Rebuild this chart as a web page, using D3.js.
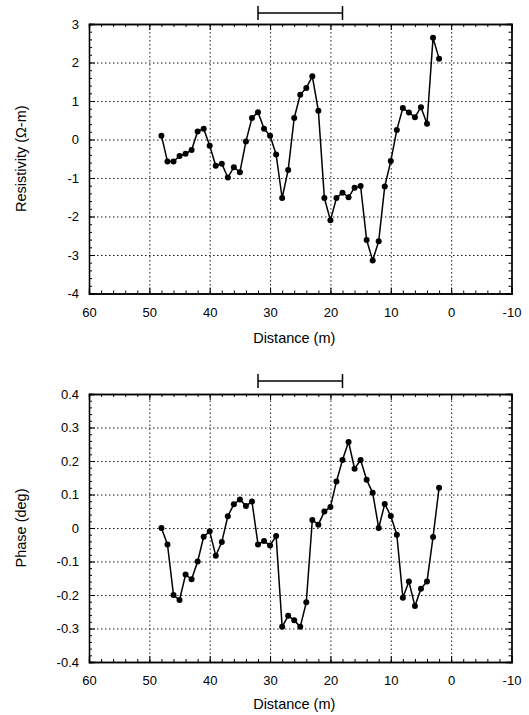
<!DOCTYPE html>
<html>
<head>
<meta charset="utf-8">
<script src="https://cdn.jsdelivr.net/npm/d3@7"></script>
<style>
  body { margin: 0; background: #fff; }
  svg { display: block; }
  text { font-family: "Liberation Sans", Arial, sans-serif; fill: #000; }
</style>
</head>
<body>
<svg id="chart" width="529" height="715"></svg>
<script>
// Data
var distance = [48,47,46,45,44,43,42,41,40,39,38,37,36,35,34,33,32,31,30,29,28,27,26,25,24,23,22,21,20,19,18,17,16,15,14,13,12,11,10,9,8,7,6,5,4,3,2];
var resistivity = [0.10,-0.57,-0.57,-0.43,-0.37,-0.27,0.21,0.28,-0.16,-0.68,-0.63,-0.99,-0.72,-0.85,-0.05,0.56,0.71,0.28,0.10,-0.39,-1.52,-0.79,0.56,1.16,1.34,1.64,0.75,-1.52,-2.10,-1.52,-1.38,-1.50,-1.25,-1.21,-2.61,-3.14,-2.64,-1.22,-0.56,0.25,0.82,0.70,0.58,0.84,0.41,2.64,2.10];
var phase = [0.00,-0.049,-0.20,-0.215,-0.139,-0.153,-0.10,-0.026,-0.01,-0.083,-0.042,0.035,0.071,0.085,0.066,0.079,-0.049,-0.039,-0.052,-0.024,-0.295,-0.262,-0.275,-0.295,-0.222,0.024,0.010,0.049,0.063,0.139,0.203,0.257,0.177,0.203,0.144,0.105,0.0,0.072,0.036,-0.02,-0.208,-0.16,-0.233,-0.181,-0.16,-0.027,0.12];
var distTicks = [60,50,40,30,20,10,0,-10];
var resTicks = [3,2,1,0,-1,-2,-3,-4];
var phaseTicks = [0.4,0.3,0.2,0.1,0,-0.1,-0.2,-0.3,-0.4];
var scaleBar = [32, 18];

var svg = d3.select("#chart");

function panel(opt) {
  var left = 89, right = 511.5;
  var x = d3.scaleLinear().domain([60, -10]).range([left, right]);
  var y = d3.scaleLinear().domain(opt.domain).range([opt.bottom, opt.top]);
  var h = opt.bottom - opt.top, w = right - left;
  var g = svg.append("g");

  //-- Grid
  g.append("g").attr("transform", "translate(0," + opt.bottom + ")")
    .call(d3.axisBottom(x).tickValues(distTicks.slice(1, -1)).tickSize(-h).tickFormat(""))
    .call(function(s) { s.select(".domain").remove(); })
    .selectAll("line").attr("stroke", "#222").attr("stroke-dasharray", "1.5,2.5");
  g.append("g").attr("transform", "translate(" + left + ",0)")
    .call(d3.axisLeft(y).tickValues(opt.ticks.slice(1, -1)).tickSize(-w).tickFormat(""))
    .call(function(s) { s.select(".domain").remove(); })
    .selectAll("line").attr("stroke", "#222").attr("stroke-dasharray", "1.5,2.5");

  //-- Minor ticks (all four sides, inward)
  var xMinor = d3.range(60, -10.01, -2);
  var yMinor = d3.range(opt.domain[0], opt.domain[1] + 1e-9, opt.minor);
  g.append("g").attr("transform", "translate(0," + opt.bottom + ")")
    .call(d3.axisBottom(x).tickValues(xMinor).tickSize(-3).tickFormat(""));
  g.append("g").attr("transform", "translate(0," + opt.top + ")")
    .call(d3.axisTop(x).tickValues(xMinor).tickSize(-3).tickFormat(""));
  g.append("g").attr("transform", "translate(" + left + ",0)")
    .call(d3.axisLeft(y).tickValues(yMinor).tickSize(-3).tickFormat(""));
  g.append("g").attr("transform", "translate(" + right + ",0)")
    .call(d3.axisRight(y).tickValues(yMinor).tickSize(-3).tickFormat(""));

  //-- Major ticks + labels (plain hyphen for negatives, as in the figure)
  g.append("g").attr("class", "xaxis").attr("transform", "translate(0," + opt.bottom + ")")
    .call(d3.axisBottom(x).tickValues(distTicks).tickSize(-6).tickPadding(14).tickFormat(function(d) { return String(d); }));
  g.append("g").attr("transform", "translate(0," + opt.top + ")")
    .call(d3.axisTop(x).tickValues(distTicks).tickSize(-6).tickFormat(""));
  g.append("g").attr("class", "yaxis").attr("transform", "translate(" + left + ",0)")
    .call(d3.axisLeft(y).tickValues(opt.ticks).tickSize(-6).tickPadding(10).tickFormat(opt.fmt));
  g.append("g").attr("transform", "translate(" + right + ",0)")
    .call(d3.axisRight(y).tickValues(opt.ticks).tickSize(-6).tickFormat(""));

  g.selectAll(".domain").attr("stroke", "#000").attr("stroke-width", 1.3);
  g.selectAll(".xaxis text, .yaxis text").attr("font-size", 13)
    .attr("font-family", "'Liberation Sans', Arial, sans-serif");

  //-- Axis titles
  g.append("text").attr("x", (left + right) / 2 - 6).attr("y", opt.bottom + opt.titleGap)
    .attr("text-anchor", "middle").attr("font-size", 14.5).text("Distance (m)");
  g.append("text").attr("transform", "translate(26," + ((opt.top + opt.bottom) / 2) + ") rotate(-90)")
    .attr("text-anchor", "middle").attr("font-size", 14.5).text(opt.label);

  //-- Scale bar
  var sb = g.append("g").attr("stroke", "#000").attr("stroke-width", 1.5);
  sb.append("line").attr("x1", x(scaleBar[0])).attr("x2", x(scaleBar[1]))
    .attr("y1", opt.barY).attr("y2", opt.barY);
  scaleBar.forEach(function(d) {
    sb.append("line").attr("x1", x(d)).attr("x2", x(d))
      .attr("y1", opt.barY - 7).attr("y2", opt.barY + 7);
  });

  //-- Series
  var line = d3.line().x(function(d, i) { return x(distance[i]); }).y(function(d) { return y(d); });
  g.append("path").datum(opt.values).attr("d", line)
    .attr("fill", "none").attr("stroke", "#000").attr("stroke-width", 1.5);
  g.selectAll(".pt").data(opt.values).enter().append("circle")
    .attr("cx", function(d, i) { return x(distance[i]); })
    .attr("cy", function(d) { return y(d); })
    .attr("r", 3).attr("fill", "#000");
}

panel({ top: 24, bottom: 293.5, domain: [-4, 3], ticks: resTicks, minor: 0.2, titleGap: 49,
        fmt: function(d) { return String(d); }, label: "Resistivity (\u03A9-m)", values: resistivity, barY: 13 });
panel({ top: 394, bottom: 662, domain: [-0.4, 0.4], ticks: phaseTicks, minor: 0.02, titleGap: 47,
        fmt: function(d) { return d === 0 ? "0" : d.toFixed(1); },
        label: "Phase  (deg)", values: phase, barY: 381 });
</script>
</body>
</html>
